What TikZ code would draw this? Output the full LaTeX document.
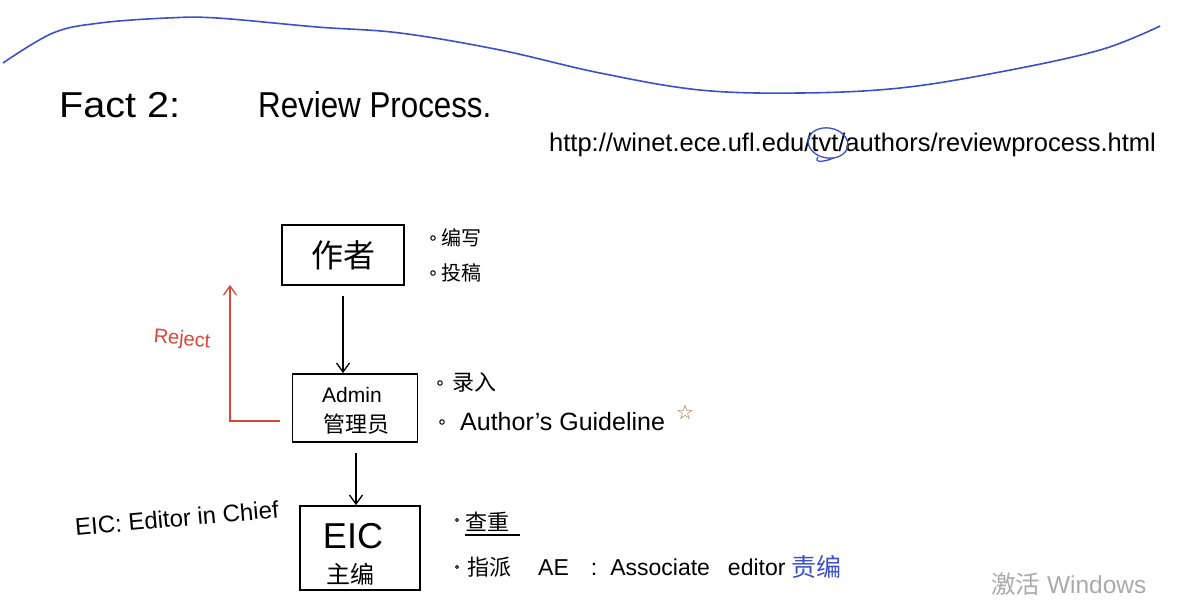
\documentclass[tikz,border=0pt]{standalone}
\usepackage{fontspec}
\setmainfont{Liberation Sans}
\newfontfamily\cjk{Noto Sans CJK SC}
\newfontfamily\sym{DejaVu Sans}
\usetikzlibrary{arrows.meta}
\definecolor{penblue}{RGB}{60,80,200}
\definecolor{penred}{RGB}{220,70,55}
\definecolor{penbrown}{RGB}{170,110,50}
\definecolor{wmgray}{RGB}{170,170,170}
\begin{document}
\begin{tikzpicture}[x=1pt,y=-1pt,
  stagebox/.style={draw=black,line width=1.8pt,inner sep=0pt,align=center},
  flow/.style={line width=1.3pt,-{Straight Barb[length=9pt,width=13pt,line width=1.3pt]}},
  rejectflow/.style={penred,line width=1.3pt,-{Straight Barb[length=9pt,width=13pt,line width=1.3pt]}},
  note/.style={anchor=west,inner sep=0pt,font=\fontsize{20}{22}\selectfont},
  bul/.style={circle,draw=black,line width=1pt,inner sep=0pt,minimum size=4.5pt}]
\useasboundingbox[fill=white] (0,0) rectangle (1191,603);

% wavy blue line
\draw[penblue,line width=1.6pt] plot[smooth,tension=0.6] coordinates {
  (3,63) (53,33) (100,23) (167,18) (217,18) (317,27) (400,33) (500,50)
  (600,73) (700,90) (800,93) (900,88) (1000,72) (1100,50) (1160,26)};

% title
\node[anchor=west,inner sep=0pt,xscale=1.1,font=\fontsize{36}{40}\selectfont] (fact) at (59,105) {Fact 2:};
\node[anchor=west,inner sep=0pt,xscale=0.87,font=\fontsize{36}{40}\selectfont] (title) at (258,105) {Review Process.};

% URL
\node[anchor=west,inner sep=0pt,font=\fontsize{25.5}{28}\selectfont] (url) at (549,145) {http://winet.ece.ufl.edu/tvt/authors/reviewprocess.html};
\draw[penblue,line width=1.3pt,rotate around={-10:(828,143)}] (828,143) ellipse [x radius=20pt,y radius=15pt];
\draw[penblue,line width=1.3pt] (818,157) .. controls (814,162) and (821,163) .. (834,158);

% boxes
\node[stagebox,minimum width=122pt,minimum height=60pt,font=\cjk\fontsize{32}{34}\selectfont] (author) at (343,255) {作者};
\node[stagebox,minimum width=125pt,minimum height=68pt] (admin) at (355,408) {};
\node[inner sep=0pt,font=\fontsize{21}{22}\selectfont] (admintxt) at (352,395) {Admin};
\node[inner sep=0pt,font=\cjk\fontsize{22}{24}\selectfont] (admincn) at (356,424) {管理员};
\node[stagebox,minimum width=120pt,minimum height=84pt] (eic) at (360,548) {};
\node[inner sep=0pt,font=\fontsize{36}{38}\selectfont] (eictxt) at (353,536) {EIC};
\node[inner sep=0pt,font=\cjk\fontsize{24}{26}\selectfont] (eiccn) at (350,574) {主编};

% flow arrows
\draw[flow] (author.south) ++(0,10) coordinate (a1) -- (admin.north -| a1);
\draw[flow] (admin.south) ++(1,10) coordinate (b1) -- (eic.north -| b1);

% reject
\coordinate (rj) at (230,421);
\coordinate (rjtop) at (230,285);
\draw[rejectflow] (admin.west |- rj) ++(-12,0) -- (rj) -- (rjtop);
\node[penred,inner sep=0pt,rotate=-5,font=\fontsize{20}{22}\selectfont] (reject) at (182,340) {Reject};

% EIC label
\node[anchor=west,inner sep=0pt,rotate=5,font=\fontsize{24}{26}\selectfont] (eicdef) at (75,527) {EIC: Editor in Chief};

% author notes
\node[bul] (ba1) at (433,238) {};
\node[note,font=\cjk\fontsize{20}{22}\selectfont] (n1) at (441,238) {编写};
\node[bul] (ba2) at (433,273) {};
\node[note,font=\cjk\fontsize{20}{22}\selectfont] (n2) at (441,273) {投稿};

% admin notes
\node[bul] (bb1) at (440,383) {};
\node[note,font=\cjk\fontsize{22}{24}\selectfont] (n3) at (452,382) {录入};
\node[bul] (bb2) at (442,422) {};
\node[note,font=\fontsize{25}{26}\selectfont] (n4) at (460,422) {Author's Guideline};
\node[penbrown,inner sep=0pt,font=\sym\fontsize{20}{20}\selectfont] (star) at (685,412) {☆};

% EIC notes
\node[bul,minimum size=3pt] (bc1) at (457,520) {};
\node[note,font=\cjk\fontsize{22}{24}\selectfont] (n5) at (465,522) {查重};
\draw[line width=1.2pt] (n5.south west) ++(0,3) -- ++(55,0);
\node[bul,minimum size=3pt] (bc2) at (457,567) {};
\node[note,font=\fontsize{23}{24}\selectfont] (n6) at (467,567) {{\cjk\fontsize{22}{24}\selectfont 指派}\hspace{27pt}AE\hspace{22pt}:\hspace{13pt}Associate\hspace{18pt}editor};
\node[note,penblue,font=\cjk\fontsize{25}{26}\selectfont] (n7) at (n6.east) {\hspace{6pt}责编};

% watermark
\node[anchor=west,inner sep=0pt,wmgray,font=\fontsize{24.5}{26}\selectfont] (wm) at (991,584) {{\cjk 激活} Windows};
\end{tikzpicture}
\end{document}
